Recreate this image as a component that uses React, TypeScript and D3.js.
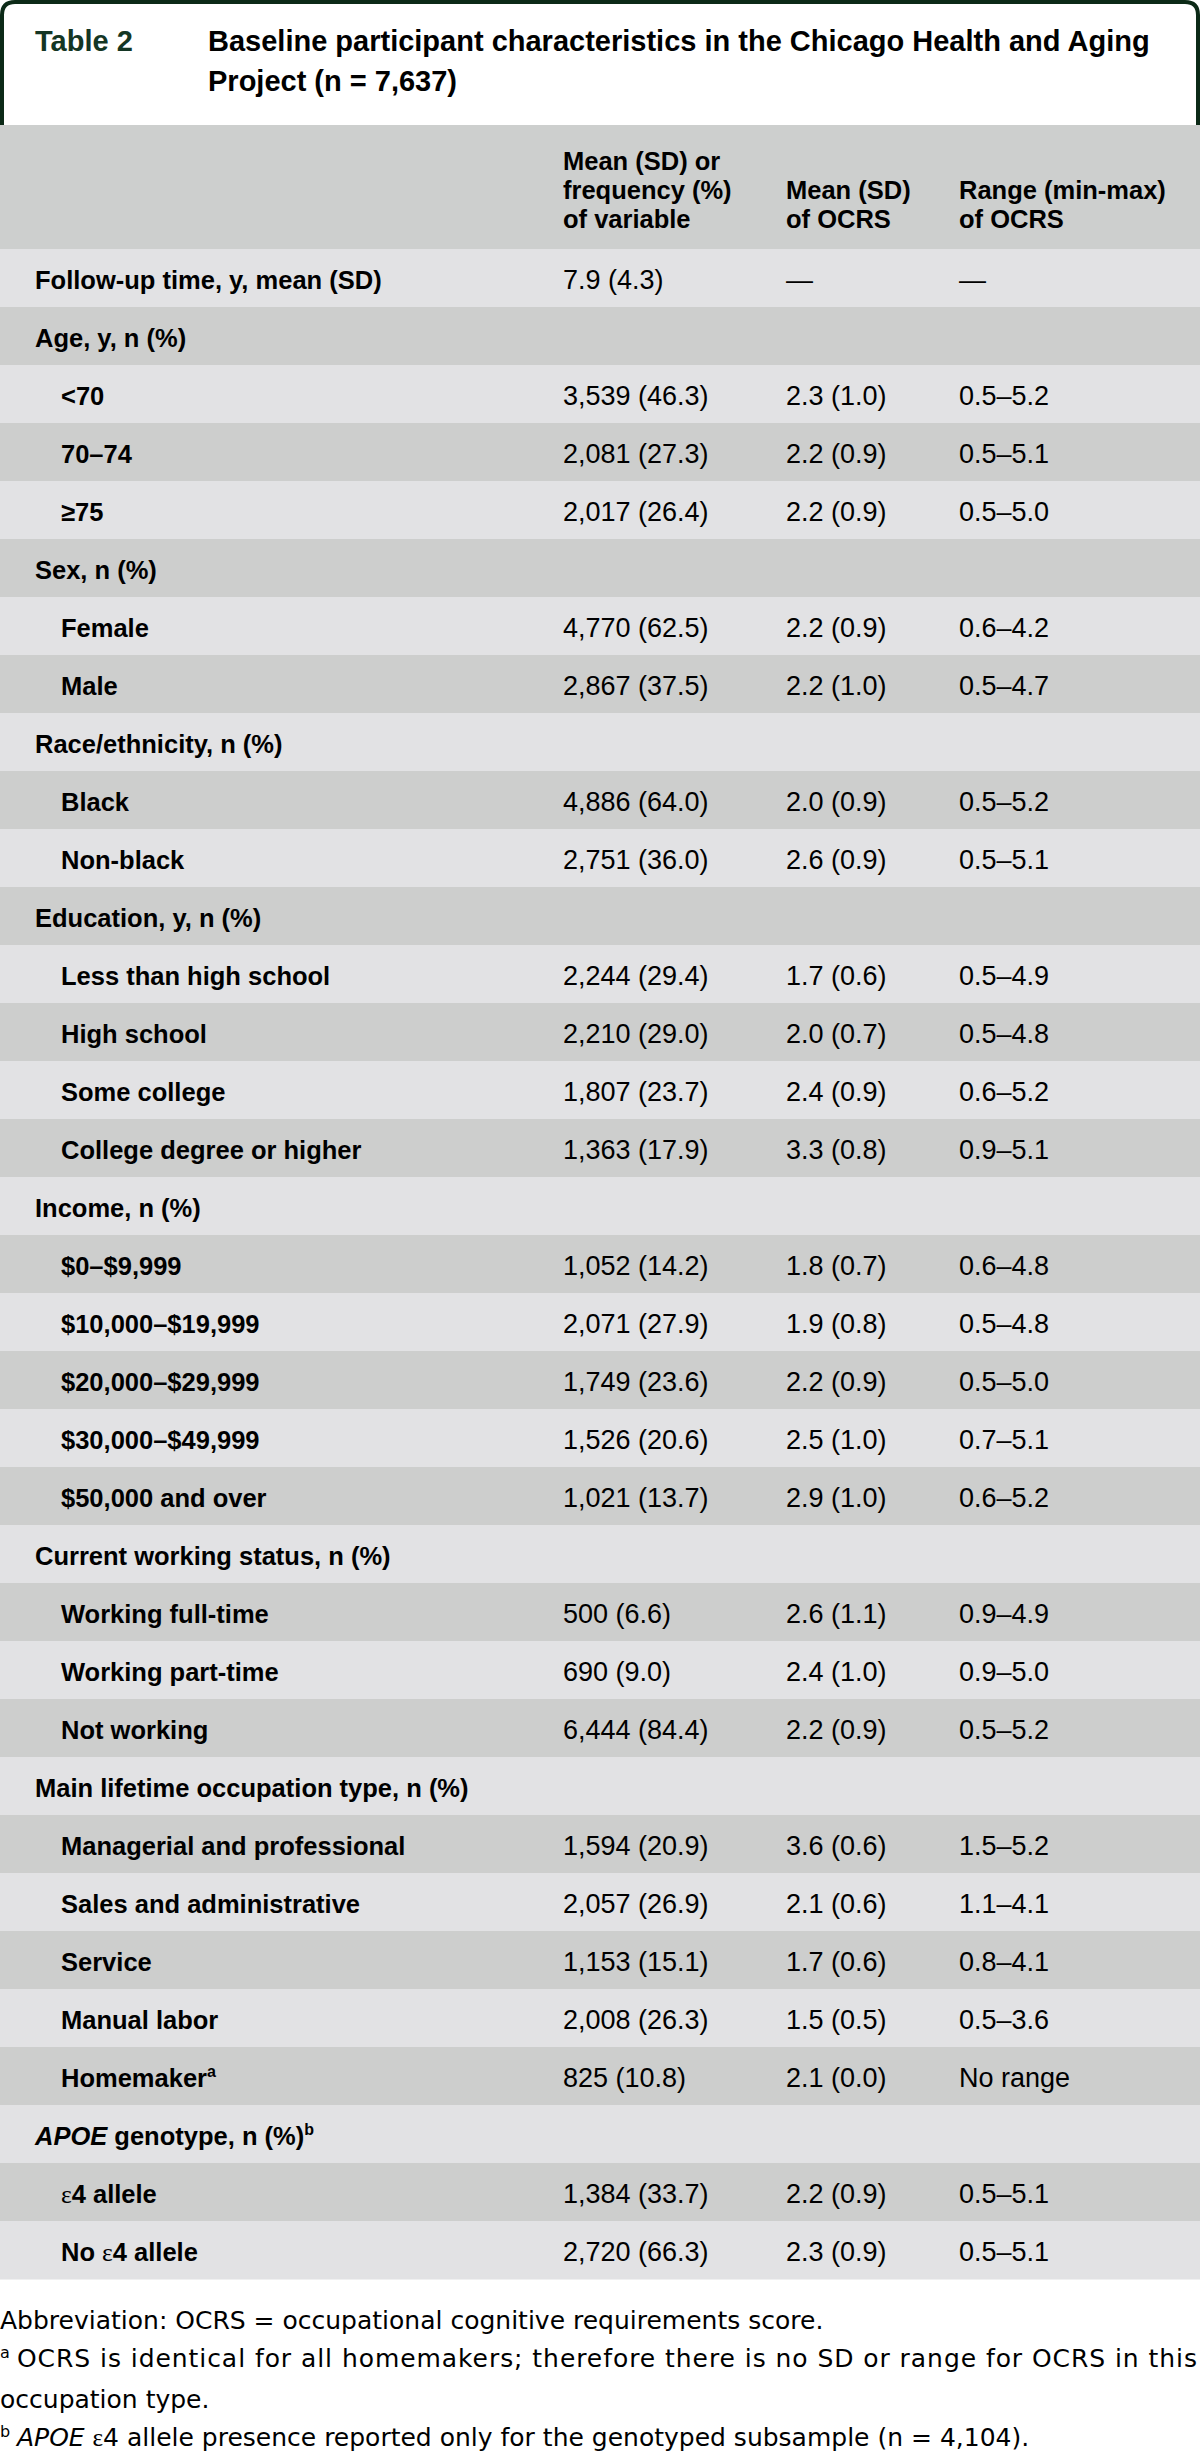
import React from "react";
import * as d3 from "d3";

const W = 1200;
const H = 2454;

const tableNumber = "Table 2";
const titleLines = [
  "Baseline participant characteristics in the Chicago Health and Aging",
  "Project (n = 7,637)",
];

const headerCol2 = ["Mean (SD) or", "frequency (%)", "of variable"];
const headerCol3 = ["Mean (SD)", "of OCRS"];
const headerCol4 = ["Range (min-max)", "of OCRS"];

const labels = [
  "Follow-up time, y, mean (SD)",
  "Age, y, n (%)",
  "<70",
  "70–74",
  "≥75",
  "Sex, n (%)",
  "Female",
  "Male",
  "Race/ethnicity, n (%)",
  "Black",
  "Non-black",
  "Education, y, n (%)",
  "Less than high school",
  "High school",
  "Some college",
  "College degree or higher",
  "Income, n (%)",
  "$0–$9,999",
  "$10,000–$19,999",
  "$20,000–$29,999",
  "$30,000–$49,999",
  "$50,000 and over",
  "Current working status, n (%)",
  "Working full-time",
  "Working part-time",
  "Not working",
  "Main lifetime occupation type, n (%)",
  "Managerial and professional",
  "Sales and administrative",
  "Service",
  "Manual labor",
  "Homemaker",
  "APOE genotype, n (%)",
  "ε4 allele",
  "No ε4 allele",
];

const indents = [
  0, 0, 1, 1, 1, 0, 1, 1, 0, 1, 1, 0, 1, 1, 1, 1, 0, 1, 1, 1, 1, 1, 0, 1, 1, 1,
  0, 1, 1, 1, 1, 1, 0, 1, 1,
];

const footRefs = [
  "", "", "", "", "", "", "", "", "", "", "", "", "", "", "", "", "", "", "",
  "", "", "", "", "", "", "", "", "", "", "", "", "a", "b", "", "",
];

const freqValues = [
  "7.9 (4.3)", "", "3,539 (46.3)", "2,081 (27.3)", "2,017 (26.4)", "",
  "4,770 (62.5)", "2,867 (37.5)", "", "4,886 (64.0)", "2,751 (36.0)", "",
  "2,244 (29.4)", "2,210 (29.0)", "1,807 (23.7)", "1,363 (17.9)", "",
  "1,052 (14.2)", "2,071 (27.9)", "1,749 (23.6)", "1,526 (20.6)", "1,021 (13.7)",
  "", "500 (6.6)", "690 (9.0)", "6,444 (84.4)", "", "1,594 (20.9)",
  "2,057 (26.9)", "1,153 (15.1)", "2,008 (26.3)", "825 (10.8)", "",
  "1,384 (33.7)", "2,720 (66.3)",
];

const meanOcrs = [
  "—", "", "2.3 (1.0)", "2.2 (0.9)", "2.2 (0.9)", "", "2.2 (0.9)", "2.2 (1.0)",
  "", "2.0 (0.9)", "2.6 (0.9)", "", "1.7 (0.6)", "2.0 (0.7)", "2.4 (0.9)",
  "3.3 (0.8)", "", "1.8 (0.7)", "1.9 (0.8)", "2.2 (0.9)", "2.5 (1.0)",
  "2.9 (1.0)", "", "2.6 (1.1)", "2.4 (1.0)", "2.2 (0.9)", "", "3.6 (0.6)",
  "2.1 (0.6)", "1.7 (0.6)", "1.5 (0.5)", "2.1 (0.0)", "", "2.2 (0.9)",
  "2.3 (0.9)",
];

const rangeOcrs = [
  "—", "", "0.5–5.2", "0.5–5.1", "0.5–5.0", "", "0.6–4.2", "0.5–4.7", "",
  "0.5–5.2", "0.5–5.1", "", "0.5–4.9", "0.5–4.8", "0.6–5.2", "0.9–5.1", "",
  "0.6–4.8", "0.5–4.8", "0.5–5.0", "0.7–5.1", "0.6–5.2", "", "0.9–4.9",
  "0.9–5.0", "0.5–5.2", "", "1.5–5.2", "1.1–4.1", "0.8–4.1", "0.5–3.6",
  "No range", "", "0.5–5.1", "0.5–5.1",
];

const footMarks = ["", "a", "", "b"];
const footTexts = [
  "Abbreviation: OCRS = occupational cognitive requirements score.",
  "OCRS is identical for all homemakers; therefore there is no SD or range for OCRS in this",
  "occupation type.",
  "APOE ε4 allele presence reported only for the genotyped subsample (n = 4,104).",
];
const footJustified = [false, true, false, false];

const FONT = "'Liberation Sans', Arial, Helvetica, sans-serif";
const FOOT_FONT = "'DejaVu Sans', 'Liberation Sans', sans-serif";
const SERIF = "'Liberation Serif', 'DejaVu Serif', serif";
const borderColor = "#0c2a17";
const greenText = "#143624";
const headerFill = "#cdcfce";
const lightFill = "#e2e2e4";
const darkFill = "#cdcecd";

function renderRich(text: string, epsFont: string) {
  const parts: React.ReactNode[] = [];
  let rest = text;
  let k = 0;
  if (rest.startsWith("APOE")) {
    parts.push(
      <tspan key={k++} fontStyle="italic">
        APOE
      </tspan>
    );
    rest = rest.slice(4);
  }
  const segs = rest.split("ε");
  segs.forEach((s, i) => {
    if (i > 0)
      parts.push(
        <tspan key={k++} fontFamily={epsFont} fontWeight="normal">
          ε
        </tspan>
      );
    if (s) parts.push(<tspan key={k++}>{s}</tspan>);
  });
  return parts;
}

export default function App() {
  const rowIdx = d3.range(labels.length);
  const y = d3.scaleBand<number>().domain(rowIdx).range([249, 2279]).padding(0);
  const x = d3
    .scaleOrdinal<string, number>()
    .domain(["label", "indent", "freq", "mean", "range"])
    .range([35, 61, 563, 786, 959]);

  const labelSize = 25.5;
  const dataSize = 27;
  const rh = y.bandwidth();

  const footY = d3.scaleLinear().domain([0, 1, 2, 3]).range([2329, 2367, 2408, 2446]);
  const footSize = 25;

  return (
    <div style={{ position: "absolute", left: 0, top: 0, width: W, height: H }}>
      <svg width={W} height={H} viewBox={`0 0 ${W} ${H}`} style={{ display: "block" }}>
        <rect x={0} y={0} width={W} height={H} fill="#ffffff" />
        {/* title box */}
        <path
          d={`M2,125 L2,15 Q2,2 15,2 L1185,2 Q1198,2 1198,15 L1198,125`}
          fill="none"
          stroke={borderColor}
          strokeWidth={4}
        />
        <text x={35} y={51} fontFamily={FONT} fontWeight="bold" fontSize={29} fill={greenText}>
          {tableNumber}
        </text>
        {titleLines.map((t, i) => (
          <text
            key={i}
            x={208}
            y={51 + i * 40}
            fontFamily={FONT}
            fontWeight="bold"
            fontSize={29}
            fill="#000"
          >
            {t}
          </text>
        ))}

        {/* header */}
        <rect x={0} y={125} width={W} height={124} fill={headerFill} />
        {headerCol2.map((t, i) => (
          <text key={"h2" + i} x={x("freq")} y={170 + i * 29} fontFamily={FONT} fontWeight="bold" fontSize={labelSize} fill="#000">
            {t}
          </text>
        ))}
        {headerCol3.map((t, i) => (
          <text key={"h3" + i} x={x("mean")} y={199 + i * 29} fontFamily={FONT} fontWeight="bold" fontSize={labelSize} fill="#000">
            {t}
          </text>
        ))}
        {headerCol4.map((t, i) => (
          <text key={"h4" + i} x={x("range")} y={199 + i * 29} fontFamily={FONT} fontWeight="bold" fontSize={labelSize} fill="#000">
            {t}
          </text>
        ))}

        {/* rows */}
        {rowIdx.map((i) => {
          const top = y(i) as number;
          const base = top + 39.5;
          return (
            <g key={i}>
              <rect x={0} y={top} width={W} height={rh + 0.5} fill={i % 2 === 0 ? lightFill : darkFill} />
              <text
                x={indents[i] ? x("indent") : x("label")}
                y={base}
                fontFamily={FONT}
                fontWeight="bold"
                fontSize={labelSize}
                fill="#000"
              >
                {renderRich(labels[i], SERIF)}
                {footRefs[i] ? (
                  <tspan fontSize={16} dy={-10}>
                    {footRefs[i]}
                  </tspan>
                ) : null}
              </text>
              <text x={x("freq")} y={base} fontFamily={FONT} fontSize={dataSize} fill="#000">
                {freqValues[i]}
              </text>
              <text x={x("mean")} y={base} fontFamily={FONT} fontSize={dataSize} fill="#000">
                {meanOcrs[i]}
              </text>
              <text x={x("range")} y={base} fontFamily={FONT} fontSize={dataSize} fill="#000">
                {rangeOcrs[i]}
              </text>
            </g>
          );
        })}

        {/* footnotes */}
        {footTexts.map((t, i) => {
          const fy = footY(i);
          const startX = footMarks[i] ? 17 : 0;
          return (
            <g key={"f" + i}>
              {footMarks[i] ? (
                <text x={0} y={fy - 9} fontFamily={FOOT_FONT} fontSize={16} fill="#000">
                  {footMarks[i]}
                </text>
              ) : null}
              <text
                x={startX}
                y={fy}
                fontFamily={FOOT_FONT}
                fontSize={footSize}
                fill="#000"
                {...(footJustified[i]
                  ? { textLength: 1197 - startX, lengthAdjust: "spacing" }
                  : {})}
              >
                {renderRich(t, SERIF)}
              </text>
            </g>
          );
        })}
      </svg>
    </div>
  );
}
